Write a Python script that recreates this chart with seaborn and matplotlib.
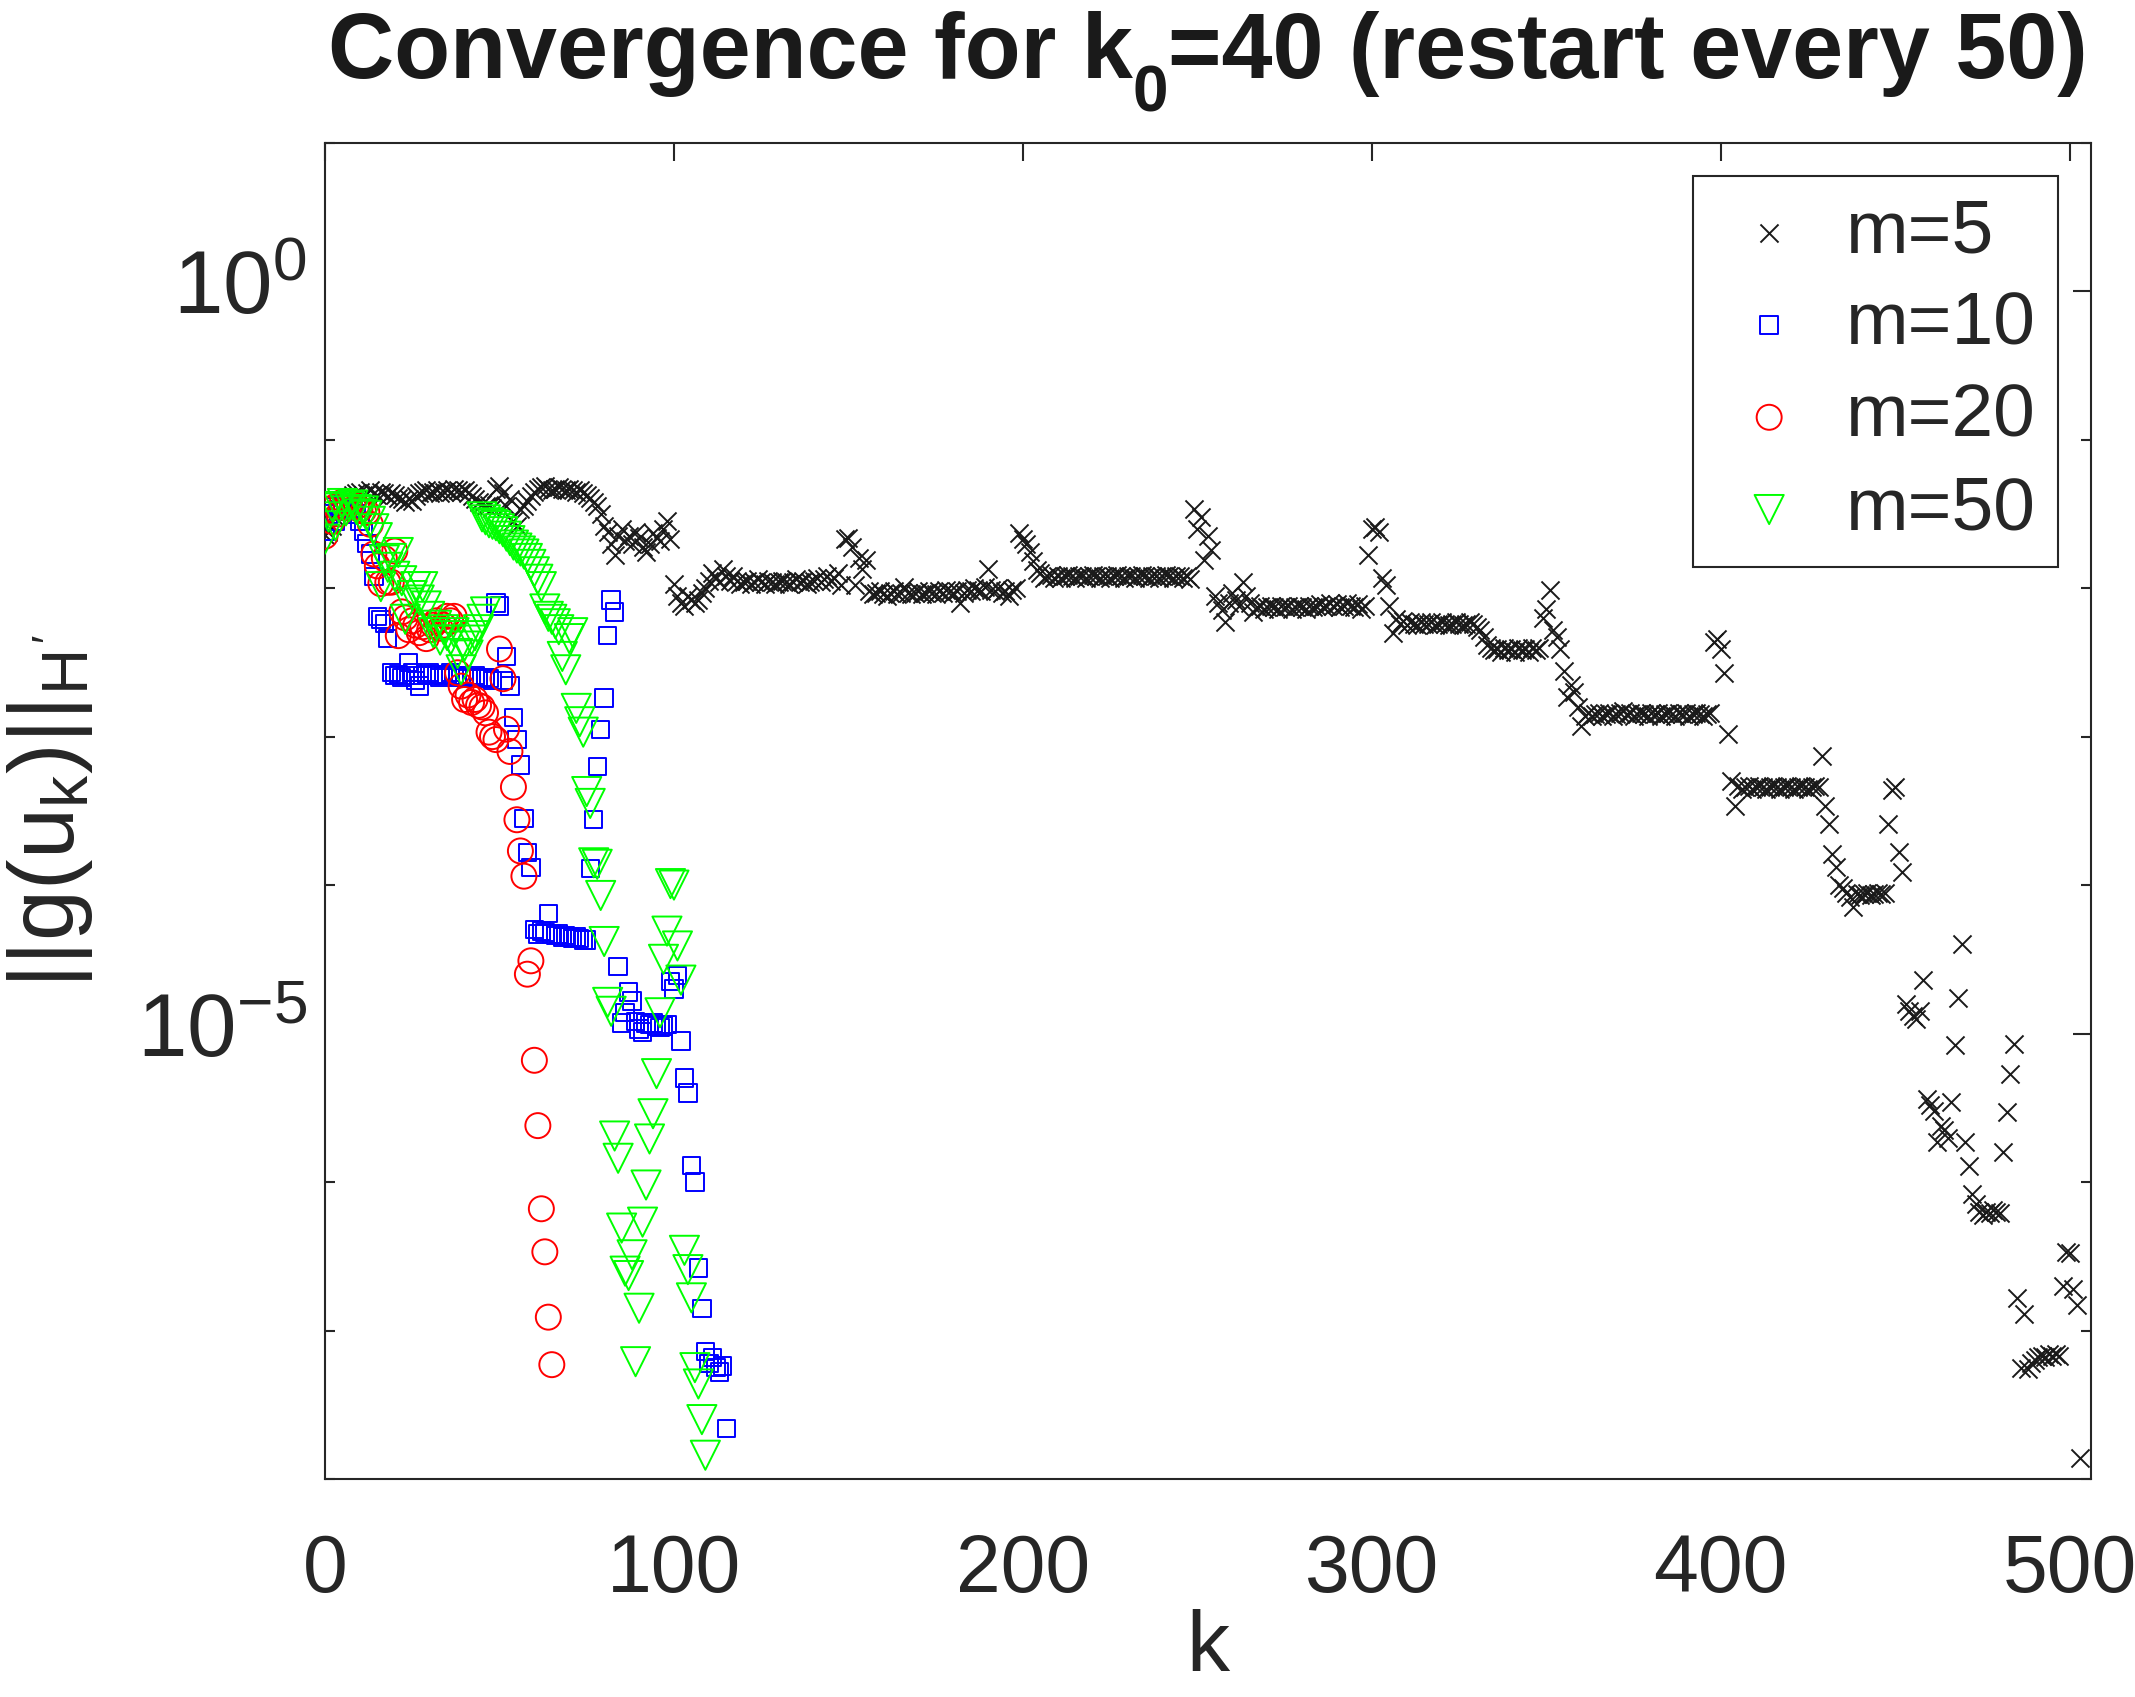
import numpy as np
import pandas as pd
import matplotlib
matplotlib.use("Agg")
import matplotlib.pyplot as plt
import seaborn as sns
from matplotlib.ticker import FixedLocator, NullFormatter, LogFormatterMathtext

# ---------------- data (log10 of ||g(u_k)||) ----------------
m5_log_k000 = [-1.64, -1.62, -1.58, -1.52, -1.47, -1.44, -1.41, -1.39, -1.37, -1.36,
               -1.35, -1.37, -1.36, -1.34, -1.36, -1.37, -1.35, -1.36, -1.38, -1.36,
               -1.37, -1.39, -1.40, -1.42, -1.40, -1.41, -1.38, -1.36, -1.35, -1.34,
               -1.36, -1.35, -1.34, -1.36, -1.35, -1.34, -1.35, -1.33, -1.34, -1.35,
               -1.34, -1.36, -1.38, -1.40, -1.42, -1.43, -1.45, -1.44, -1.46, -1.33]
m5_log_k050 = [-1.31, -1.36, -1.45, -1.40, -1.55, -1.58, -1.47, -1.45, -1.41, -1.38,
               -1.35, -1.33, -1.32, -1.31, -1.33, -1.34, -1.33, -1.32, -1.33, -1.34,
               -1.33, -1.34, -1.35, -1.34, -1.36, -1.37, -1.39, -1.42, -1.45, -1.50,
               -1.58, -1.62, -1.70, -1.78, -1.65, -1.60, -1.68, -1.65, -1.70, -1.62,
               -1.66, -1.72, -1.76, -1.70, -1.63, -1.66, -1.68, -1.60, -1.55, -1.67]
m5_log_k100 = [-1.97, -2.05, -2.10, -2.12, -2.05, -2.08, -2.10, -2.08, -2.03, -2.00,
               -1.95, -1.90, -1.93, -1.96, -1.87, -1.92, -1.95, -1.92, -1.95, -1.97,
               -1.96, -1.95, -1.97, -1.96, -1.94, -1.96, -1.97, -1.95, -1.96, -1.97,
               -1.96, -1.95, -1.96, -1.97, -1.96, -1.94, -1.96, -1.95, -1.97, -1.96,
               -1.95, -1.93, -1.96, -1.94, -1.92, -1.95, -1.93, -1.90, -1.98, -1.67]
m5_log_k150 = [-1.66, -1.72, -1.98, -1.80, -1.87, -1.81, -2.02, -2.04, -2.03, -2.02,
               -2.04, -2.05, -2.03, -2.02, -2.04, -2.03, -1.99, -2.03, -2.04, -2.03,
               -2.02, -2.04, -2.03, -2.02, -2.03, -2.04, -2.02, -2.03, -2.01, -2.02,
               -2.03, -2.02, -2.10, -2.03, -2.01, -2.02, -2.00, -2.01, -2.02, -1.99,
               -1.87, -2.01, -2.02, -2.00, -2.03, -2.02, -2.05, -2.01, -2.00, -1.63]
m5_log_k200 = [-1.67, -1.70, -1.76, -1.82, -1.88, -1.90, -1.93, -1.92, -1.91, -1.93,
               -1.92, -1.93, -1.92, -1.91, -1.92, -1.93, -1.92, -1.92, -1.93, -1.92,
               -1.91, -1.92, -1.93, -1.92, -1.92, -1.93, -1.92, -1.91, -1.92, -1.93,
               -1.92, -1.92, -1.93, -1.92, -1.91, -1.92, -1.93, -1.92, -1.92, -1.93,
               -1.92, -1.91, -1.92, -1.93, -1.92, -1.92, -1.93, -1.92, -1.94, -1.47]
m5_log_k250 = [-1.60, -1.52, -1.81, -1.65, -1.74, -2.05, -2.10, -2.15, -2.23, -2.10,
               -2.03, -2.08, -2.12, -1.96, -2.05, -2.10, -2.16, -2.13, -2.12, -2.14,
               -2.13, -2.12, -2.13, -2.14, -2.12, -2.13, -2.12, -2.14, -2.13, -2.12,
               -2.13, -2.14, -2.12, -2.13, -2.12, -2.11, -2.13, -2.12, -2.10, -2.12,
               -2.11, -2.13, -2.12, -2.10, -2.12, -2.13, -2.11, -2.14, -2.12, -1.78]
m5_log_k300 = [-1.60, -1.59, -1.62, -1.93, -1.98, -2.12, -2.30, -2.21, -2.24, -2.22,
               -2.25, -2.23, -2.24, -2.25, -2.23, -2.24, -2.24, -2.23, -2.25, -2.24,
               -2.23, -2.24, -2.25, -2.24, -2.23, -2.24, -2.25, -2.24, -2.23, -2.24,
               -2.26, -2.28, -2.33, -2.38, -2.40, -2.42, -2.41, -2.43, -2.40, -2.42,
               -2.41, -2.43, -2.40, -2.42, -2.41, -2.43, -2.40, -2.42, -2.40, -2.20]
m5_log_k350 = [-2.14, -2.01, -2.28, -2.33, -2.41, -2.56, -2.73, -2.65, -2.70, -2.80,
               -2.93, -2.86, -2.84, -2.86, -2.85, -2.84, -2.86, -2.85, -2.84, -2.86,
               -2.85, -2.84, -2.83, -2.85, -2.84, -2.86, -2.85, -2.84, -2.85, -2.86,
               -2.84, -2.85, -2.84, -2.86, -2.85, -2.84, -2.85, -2.86, -2.84, -2.85,
               -2.84, -2.86, -2.85, -2.84, -2.85, -2.86, -2.85, -2.84, -2.36, -2.34]
m5_log_k400 = [-2.41, -2.57, -2.98, -3.30, -3.47, -3.33, -3.35, -3.34, -3.33, -3.35,
               -3.34, -3.33, -3.34, -3.35, -3.34, -3.33, -3.34, -3.35, -3.34, -3.33,
               -3.34, -3.35, -3.34, -3.33, -3.34, -3.35, -3.34, -3.33, -3.34, -3.13,
               -3.47, -3.59, -3.79, -3.88, -4.00, -4.02, -4.05, -4.08, -4.15, -4.06,
               -4.07, -4.06, -4.05, -4.07, -4.06, -4.05, -4.06, -4.05, -3.59, -3.36]
m5_log_k450 = [-3.34, -3.78, -3.91, -4.80, -4.85, -4.88, -4.90, -4.85, -4.64, -5.44,
               -5.48, -5.52, -5.73, -5.62, -5.65, -5.70, -5.46, -5.08, -4.76, -4.40,
               -5.73, -5.89, -6.08, -6.15, -6.20, -6.22, -6.20, -6.21, -6.19, -6.20,
               -6.21, -5.80, -5.53, -5.27, -5.07, -6.78, -7.25, -6.89, -7.26, -7.22,
               -7.20, -7.18, -7.17, -7.18, -7.16, -7.17, -7.16, -7.17, -6.70, -6.47,
               -6.48, -6.72, -6.83, -7.86]

m10_log = [-1.62, -1.50, -1.45, -1.55, -1.48, -1.44, -1.47, -1.43, -1.46, -1.50,
           -1.55, -1.62, -1.70, -1.77, -1.92, -2.19, -2.21, -2.24, -2.34, -2.57,
           -2.59, -2.58, -2.60, -2.59, -2.50, -2.57, -2.62, -2.66, -2.59, -2.58,
           -2.57, -2.59, -2.58, -2.60, -2.59, -2.58, -2.57, -2.59, -2.60, -2.59,
           -2.60, -2.61, -2.60, -2.59, -2.60, -2.61, -2.60, -2.61, -2.62, -2.10,
           -2.12, -2.62, -2.46, -2.66, -2.87, -3.02, -3.19, -3.55, -3.78, -3.88,
           -4.30, -4.33, -4.31, -4.32, -4.19, -4.33, -4.34, -4.33, -4.35, -4.34,
           -4.35, -4.36, -4.35, -4.36, -4.37, -4.37, -3.89, -3.56, -3.20, -2.95,
           -2.74, -2.32, -2.08, -2.16, -4.55, -4.93, -4.86, -4.72, -4.78, -4.92,
           -4.97, -4.99, -4.93, -4.94, -4.93, -4.95, -4.96, -4.95, -4.94, -4.65,
           -4.70, -4.61, -5.05, -5.30, -5.40, -5.89, -6.00, -6.58, -6.85, -7.14,
           -7.22, -7.18, -7.25, -7.28, -7.24, -7.66]

m20_log = [-1.65, -1.47, -1.55, -1.45, -1.50, -1.42, -1.46, -1.43, -1.42, -1.45,
           -1.47, -1.48, -1.49, -1.57, -1.77, -1.85, -1.97, -1.80, -1.96, -1.96,
           -1.75, -2.32, -2.16, -2.20, -2.28, -2.22, -2.25, -2.30, -2.26, -2.34,
           -2.28, -2.25, -2.22, -2.27, -2.25, -2.19, -2.22, -2.19, -2.57, -2.66,
           -2.75, -2.72, -2.77, -2.75, -2.79, -2.80, -2.84, -2.97, -3.00, -3.02,
           -2.41, -2.61, -2.95, -3.10, -3.34, -3.56, -3.77, -3.94, -4.60, -4.51,
           -5.18, -5.62, -6.18, -6.47, -6.91, -7.23]

m50_k = [0, 1, 2, 3, 4, 5, 6, 7, 8, 9, 10, 11, 12, 13, 14, 15, 16, 17, 18, 19,
         20, 21, 22, 23, 24, 25, 26, 27, 28, 29, 30, 31, 32, 33, 34, 35, 36, 37, 38, 39,
         40, 41, 42, 43, 44, 45, 46,
         45, 46, 47, 48, 49, 50, 51, 52, 53, 54, 55, 56, 57, 58, 59, 60, 61, 62, 63,
         64, 65, 66, 67, 68, 69, 70, 71, 72, 73, 74, 75, 76, 77, 78, 79, 80, 81, 82,
         83, 84, 85, 86, 87, 88, 89, 90, 91, 92, 93, 94, 95, 96, 97, 98, 99, 100,
         101, 102, 103, 104, 105, 106, 107, 108, 109]
m50_log = [-1.67, -1.52, -1.45, -1.58, -1.46, -1.43, -1.48, -1.45, -1.44, -1.47,
           -1.50, -1.48, -1.51, -1.55, -1.60, -1.66, -1.99, -1.81, -1.86, -1.80,
           -1.92, -1.76, -1.95, -2.21, -2.10, -2.05, -1.99, -2.08, -1.99, -2.12,
           -2.19, -2.30, -2.25, -2.35, -2.28, -2.32, -2.35, -2.30, -2.44, -2.55,
           -2.39, -2.45, -2.35, -2.32, -2.28, -2.21, -2.16,
           -1.52, -1.54, -1.56, -1.57, -1.58, -1.60, -1.62, -1.65, -1.68, -1.71,
           -1.73, -1.75, -1.77, -1.80, -1.84, -1.89, -1.94, -1.99, -2.14,
           -2.19, -2.21, -2.24, -2.28, -2.46, -2.55, -2.34, -2.30, -2.81, -2.90,
           -2.97, -3.37, -3.45, -3.85, -3.86, -4.07, -4.38, -4.79, -4.85,
           -5.69, -5.84, -6.31, -6.60, -6.63, -6.49, -7.21, -6.85, -6.27, -6.02,
           -5.71, -5.54, -5.27, -4.86, -4.50, -4.31, -3.99, -4.00,
           -4.41, -4.64, -6.46, -6.59, -6.78, -7.25, -7.36, -7.60, -7.84]

series_labels = ["m=5", "m=10", "m=20", "m=50"]
x_ticks = [0, 100, 200, 300, 400, 500]
title_parts = ["Convergence for k", "0", "=40 (restart every 50)"]

# ---------------- assemble tables ----------------
m5_log = (m5_log_k000 + m5_log_k050 + m5_log_k100 + m5_log_k150 + m5_log_k200 +
          m5_log_k250 + m5_log_k300 + m5_log_k350 + m5_log_k400 + m5_log_k450)
df5 = pd.DataFrame({"k": np.arange(len(m5_log)), "g": 10.0 ** np.array(m5_log)})
df10 = pd.DataFrame({"k": np.arange(len(m10_log)), "g": 10.0 ** np.array(m10_log)})
df20 = pd.DataFrame({"k": np.arange(len(m20_log)), "g": 10.0 ** np.array(m20_log)})
df50 = pd.DataFrame({"k": m50_k, "g": 10.0 ** np.array(m50_log)})

# ---------------- style ----------------
sns.set_theme(style="white")
plt.rcParams["font.family"] = ["Liberation Sans", "DejaVu Sans"]
plt.rcParams["mathtext.fontset"] = "custom"
plt.rcParams["mathtext.rm"] = "Liberation Sans"
plt.rcParams["mathtext.it"] = "Liberation Sans"
plt.rcParams["mathtext.bf"] = "Liberation Sans:bold"
plt.rcParams["axes.unicode_minus"] = False

W, H = 2135, 1697
fig = plt.figure(figsize=(W / 100, H / 100), dpi=100)
L, R, T, B = 325, 2090.7, 142.7, 1479
ax = fig.add_axes([L / W, 1 - B / H, (R - L) / W, (B - T) / H])

lw = 1.4
sns.scatterplot(data=df5, x="k", y="g", marker="x", color="k", s=13 ** 2,
                linewidth=lw, ax=ax, label=series_labels[0], zorder=2)
sns.scatterplot(data=df10, x="k", y="g", marker="s", facecolor="none",
                edgecolor=(0, 0, 1), s=12.5 ** 2, linewidth=lw, ax=ax,
                label=series_labels[1], zorder=3)
sns.scatterplot(data=df20, x="k", y="g", marker="o", facecolor="none",
                edgecolor=(1, 0, 0), s=18 ** 2, linewidth=lw, ax=ax,
                label=series_labels[2], zorder=4)
sns.scatterplot(data=df50, x="k", y="g", marker="v", facecolor="none",
                edgecolor=(0, 1, 0), s=21 ** 2, linewidth=lw, ax=ax,
                label=series_labels[3], zorder=5)

ax.set_yscale("log")
ax.set_xlim(0, 506)
ax.set_ylim(1e-8, 1e1)

ax.xaxis.set_major_locator(FixedLocator(x_ticks))
ax.yaxis.set_major_locator(FixedLocator([1e0, 1e-5]))
ax.yaxis.set_major_formatter(LogFormatterMathtext())
ax.yaxis.set_minor_locator(FixedLocator([10.0 ** e for e in range(-8, 2)]))
ax.yaxis.set_minor_formatter(NullFormatter())

axc = "0.15"
for sp in ax.spines.values():
    sp.set_visible(True)
    sp.set_color(axc)
    sp.set_linewidth(1.5)
ax.tick_params(axis="both", which="major", direction="in", length=13, width=1.5,
               color=axc, labelcolor=axc, top=True, right=True)
ax.tick_params(axis="x", which="major", pad=39, labelsize=58)
ax.tick_params(axis="y", which="major", pad=13, labelsize=64)
ax.tick_params(axis="y", which="minor", direction="in", length=7, width=1.5,
               color=axc, left=True, right=True)
for lab in ax.get_yticklabels():
    lab.set_verticalalignment("center")

ax.set_xlabel("k", fontsize=62, color=axc, labelpad=0)
ax.set_ylabel(r"$||g(u_k)||_{H^{\prime}}$", fontsize=66, color=axc, labelpad=30)

leg = ax.legend(loc="upper right", bbox_to_anchor=(0.9815, 0.9751), fontsize=54,
                frameon=True, fancybox=False, framealpha=1, edgecolor=axc,
                borderpad=0.3, handlelength=1.44, handletextpad=0.30,
                labelspacing=0.31, borderaxespad=0)
leg.get_frame().set_linewidth(1.5)

# ---------------- title with a MATLAB-like lowered subscript ----------------
fs_title, fs_sub = 66, 46
base_y = 78.0          # baseline, pixels from top
sub_drop = 34.0        # subscript baseline drop, pixels
texts = []
for i, part in enumerate(title_parts):
    texts.append(fig.text(0, 0, part, fontsize=fs_sub if i == 1 else fs_title,
                          fontweight="bold", color="k", ha="left", va="baseline"))
fig.canvas.draw()
rend = fig.canvas.get_renderer()
widths = [t.get_window_extent(rend).width for t in texts]
x = (L + R) / 2 - sum(widths) / 2
for i, t in enumerate(texts):
    yb = base_y + (sub_drop if i == 1 else 0.0)
    t.set_position((x / W, 1 - yb / H))
    x += widths[i]

fig.savefig("out.png", dpi=100)
